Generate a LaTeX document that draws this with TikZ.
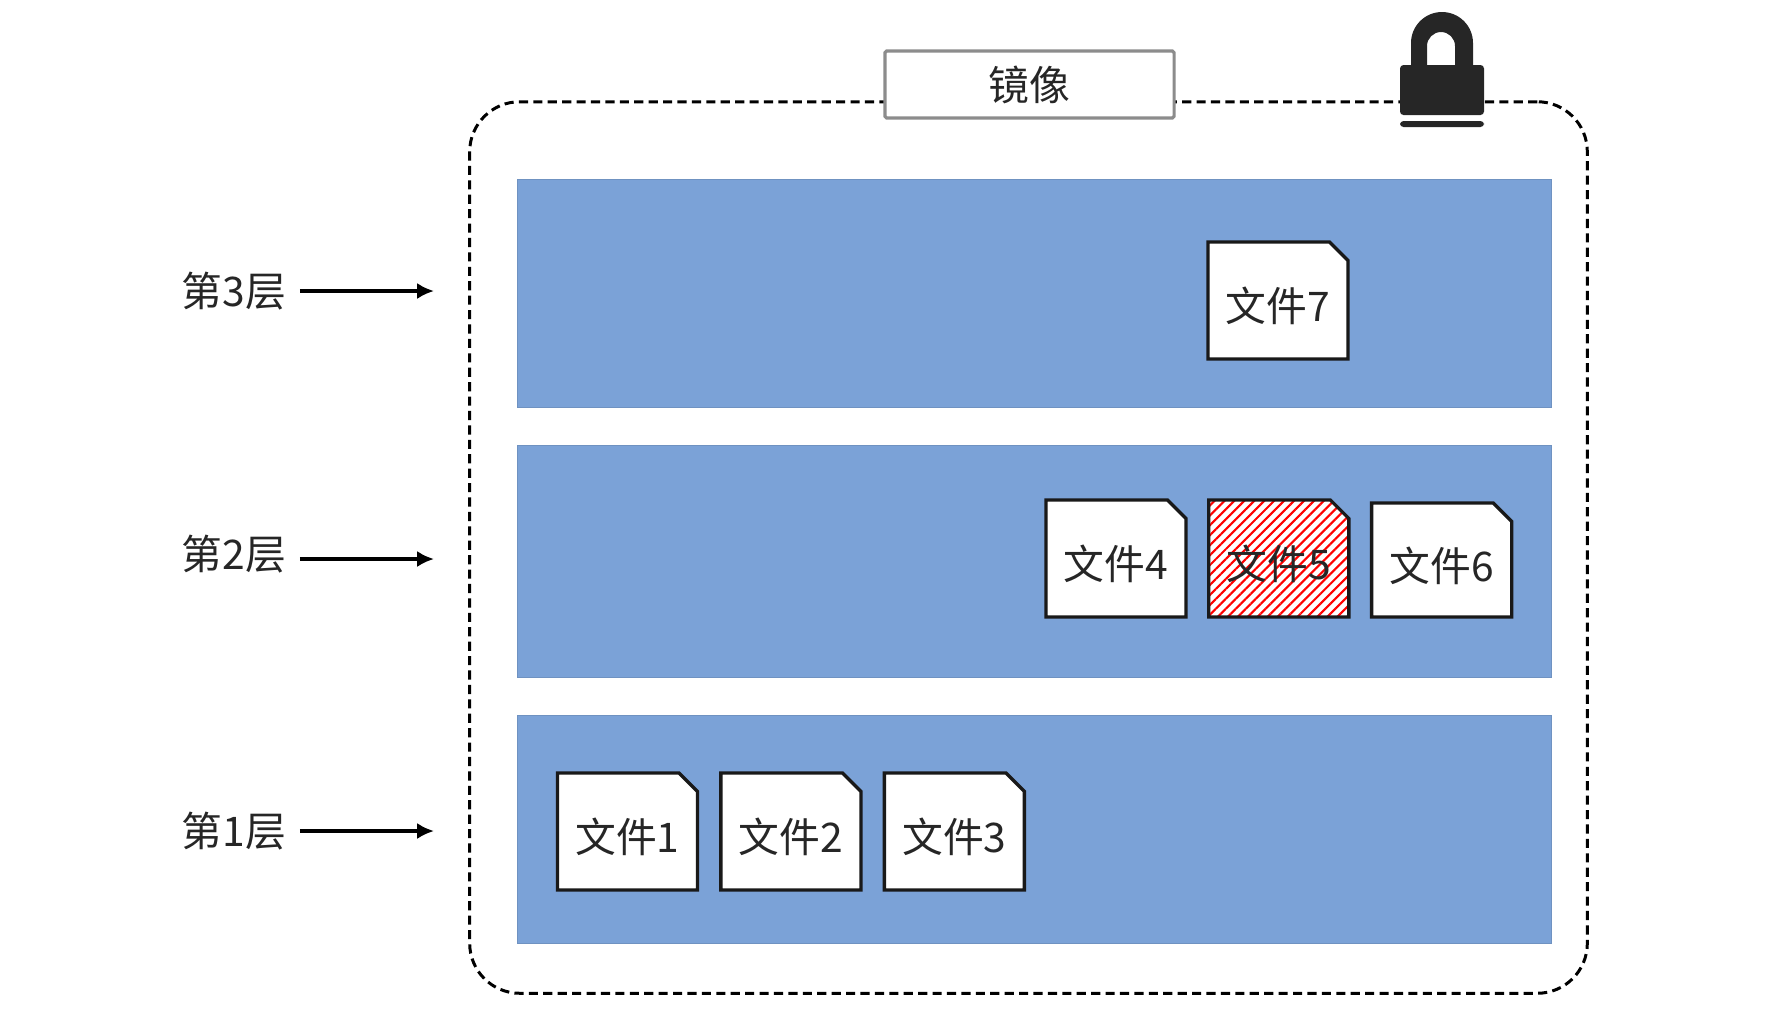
\documentclass[tikz,border=0pt]{standalone}
\usepackage{fontspec}
\usetikzlibrary{arrows.meta,positioning,calc,shapes.misc,patterns.meta}
\newfontfamily\cjk{Noto Sans CJK SC}
\definecolor{layerblue}{HTML}{7BA2D7}
\definecolor{inkdark}{HTML}{262626}
\tikzset{
  layer/.style={fill=layerblue,draw=layerblue!90!black,line width=0.3pt,minimum width=10.33cm,inner sep=0pt},
  filebox/.style={chamfered rectangle,chamfered rectangle corners=north east,chamfered rectangle xsep=0.095cm,chamfered rectangle ysep=0.09cm,draw=black!90,line width=0.95pt,fill=white,minimum width=1.40cm,minimum height=1.17cm,inner sep=0pt,text height=12pt,text depth=0pt,text=black!85,font=\cjk\fontsize{11.6}{13}\selectfont},
  hatched/.style={preaction={fill=white},pattern={Lines[angle=45,distance=2pt,line width=0.6pt]},pattern color=red},
  tagtext/.style={font=\cjk\fontsize{11.6}{13}\selectfont,text=black!85,inner xsep=0.13cm,inner ysep=0pt}
}
\begin{document}
\begin{tikzpicture}[x=0.01cm,y=-0.01cm,node distance=0.2cm,>={Latex[length=4.8pt,width=4.6pt]}]
\useasboundingbox (0,0) rectangle (1775,1029);
\node[draw=black,line width=0.85pt,dash pattern=on 2.6pt off 1.5pt,rounded corners=0.5cm,minimum width=11.17cm,minimum height=8.91cm,inner sep=0pt] (frame) at (1028.5,547.5) {};
\node[draw=black!45,line width=0.9pt,fill=white,rounded corners=0.5pt,minimum width=2.89cm,minimum height=0.67cm,font=\cjk\fontsize{11.6}{13}\selectfont,text=black!85] (mirror) at (1029.5,84.5) {镜像};
\node[layer,minimum height=2.27cm] (layer3) at (1034.5,293.5) {};
\node[layer,minimum height=2.32cm] (layer2) at (1034.5,561.5) {};
\node[layer,minimum height=2.27cm] (layer1) at (1034.5,829.5) {};
\node[filebox] (file7) at (1278,300.5) {文件7};
\node[filebox] (file4) at (1116,558.5) {文件4};
\node[filebox,hatched,right=of file4] (file5) {文件5};
\node[filebox,right=of file5,minimum height=1.14cm,yshift=-0.015cm] (file6) {文件6};
\node[filebox] (file1) at (627.5,831.5) {文件1};
\node[filebox,right=of file1] (file2) {文件2};
\node[filebox,right=of file2] (file3) {文件3};
\node[tagtext] (tag3) at (234,291) {第3层};
\node[tagtext] (tag2) at (234,554) {第2层};
\node[tagtext] (tag1) at (234,831) {第1层};
\coordinate (tip3) at (434,291);
\coordinate (tip2) at (434,559);
\coordinate (tip1) at (434,831);
\draw[->,line width=1.1pt] (tag3) -- (tip3);
\draw[->,line width=1.1pt] (tag2.east|-tip2) -- (tip2);
\draw[->,line width=1.1pt] (tag1) -- (tip1);
\fill[inkdark,even odd rule] (1411,70) -- (1411,43) arc[start angle=180,end angle=360,x radius=31,y radius=31] -- (1473,70) -- cycle
  (1427,70) -- (1427,46) arc[start angle=180,end angle=360,x radius=14,y radius=14] -- (1455,70) -- cycle;
\fill[inkdark,rounded corners=1pt] (1400,115) -- (1400,65) -- (1484,65) -- (1484,115) -- cycle;
\fill[inkdark,rounded corners=1pt] (1400,121) -- (1484,121) -- (1484,127) -- (1400,127) -- cycle;
\end{tikzpicture}
\end{document}
